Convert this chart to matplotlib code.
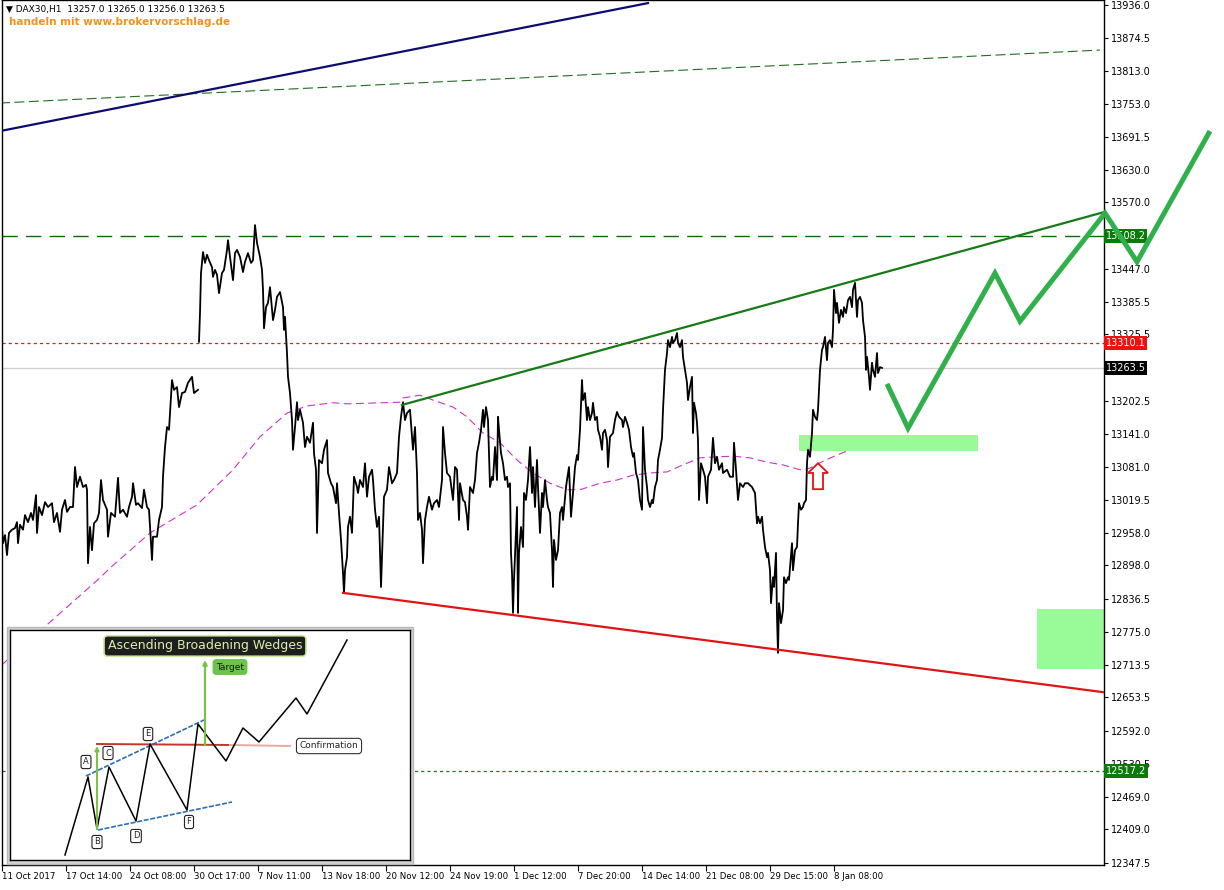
import numpy as np
import matplotlib
matplotlib.use('Agg')
import matplotlib.pyplot as plt
from matplotlib.patches import Rectangle, Polygon

# ---- data (x = H1 bar number, y = DAX price) ----
oct_leg = [(0, 12967), (1, 12939), (3, 12954), (5, 12917), (7, 12958), (10, 12964), (13, 12967), (15, 12978),
           (16, 12939), (18, 12973), (21, 12964), (23, 12991), (26, 12978), (29, 12995), (31, 12982), (34, 13028),
           (35, 12958), (37, 13006), (40, 12991), (43, 13015), (46, 13006), (50, 13013), (52, 12978), (55, 12995),
           (58, 12960), (60, 13001), (63, 13019), (65, 12997), (68, 13006), (71, 13006), (73, 13080), (75, 13043),
           (78, 13062), (81, 13043), (84, 13047), (85, 13038), (86, 12902), (88, 12969), (90, 12926), (92, 12976),
           (95, 12982), (97, 12995), (99, 13056), (101, 13019), (105, 13001), (106, 12951), (109, 12995), (113, 12988),
           (116, 13060), (118, 12995), (121, 13001), (125, 12988), (127, 13006), (130, 13025), (131, 13050), (134, 13010),
           (136, 13013), (140, 13004), (142, 13038), (145, 13006), (147, 13001), (150, 12908), (151, 12951), (155, 12951),
           (157, 12982), (160, 13006), (161, 13062), (163, 13117), (165, 13154), (167, 13149), (170, 13241), (172, 13223),
           (175, 13228), (177, 13191), (180, 13217), (183, 13219), (186, 13236), (190, 13247), (192, 13217), (196, 13223)]

main_leg = [(197, 13312), (198, 13365), (199, 13439), (201, 13478), (203, 13458), (205, 13473), (207, 13463), (210, 13450),
            (211, 13432), (213, 13445), (215, 13436), (217, 13402), (220, 13439), (222, 13445), (225, 13482), (226, 13500),
            (228, 13469), (231, 13426), (233, 13476), (235, 13482), (238, 13469), (241, 13441), (243, 13460), (246, 13476),
            (249, 13458), (251, 13463), (253, 13528), (255, 13495), (258, 13469), (260, 13445), (261, 13408), (262, 13337),
            (264, 13376), (266, 13384), (268, 13413), (271, 13352), (273, 13371), (275, 13395), (278, 13404), (281, 13376),
            (282, 13334), (283, 13358), (285, 13291), (286, 13247), (288, 13217), (290, 13167), (291, 13112), (293, 13154),
            (295, 13200), (296, 13167), (298, 13186), (301, 13162), (303, 13117), (305, 13136), (308, 13125), (311, 13162),
            (312, 13106), (314, 13075), (315, 12958), (317, 13093), (320, 13087), (322, 13112), (325, 13130), (326, 13069),
            (329, 13050), (331, 13043), (334, 13013), (335, 13050), (337, 12995), (339, 12945), (341, 12884), (342, 12847),
            (343, 12889), (345, 12913), (346, 12969), (348, 12988), (350, 12958), (352, 13062), (355, 13043), (356, 13032),
            (358, 13056), (361, 13043), (363, 13087), (365, 13025), (367, 13062), (370, 13075), (371, 13056), (373, 13001),
            (375, 12969), (377, 12988), (379, 12858), (381, 12969), (382, 13025), (385, 13038), (387, 13080), (390, 13050),
            (392, 13056), (395, 13069), (397, 13136), (399, 13173), (401, 13200), (403, 13167), (405, 13180), (408, 13186),
            (410, 13136), (411, 13112), (413, 13154), (415, 13069), (416, 12982), (418, 12995), (420, 12964), (421, 12902),
            (423, 12982), (425, 13006), (427, 13025), (430, 13001), (432, 13013), (435, 13019), (437, 13006), (440, 13056),
            (441, 13154), (443, 13106), (445, 13069), (448, 13062), (451, 13019), (453, 13080), (455, 13075), (457, 12982),
            (458, 13050), (461, 13019), (463, 13015), (465, 12988), (466, 12964), (468, 13043), (471, 13032), (473, 13056),
            (475, 13106), (477, 13125), (479, 13149), (481, 13186), (482, 13154), (484, 13191), (486, 13167), (488, 13043),
            (490, 13062), (491, 13056), (493, 13117), (495, 13056), (496, 13173), (497, 13149), (499, 13106), (501, 13087),
            (503, 13056), (505, 13062), (506, 13043), (508, 13050), (509, 12921), (510, 12884), (511, 12810), (512, 12871),
            (514, 12958), (515, 13006), (516, 12810), (517, 12921), (519, 12969), (521, 12932), (522, 13032), (524, 13019),
            (526, 13056), (528, 13117), (530, 13032), (531, 13080), (533, 13006), (535, 13093), (536, 13043), (538, 12958),
            (540, 13032), (541, 13006), (543, 13056), (545, 13019), (546, 13006), (548, 12995), (550, 12926), (551, 12858),
            (552, 12945), (554, 12908), (556, 12926), (558, 12995), (560, 13006), (561, 12982), (564, 13043), (565, 13056),
            (567, 13080), (569, 12988), (571, 13032), (573, 13080), (575, 13102), (576, 13093), (578, 13149), (580, 13241),
            (581, 13204), (583, 13217), (585, 13167), (586, 13191), (588, 13167), (590, 13180), (591, 13199), (593, 13167),
            (595, 13173), (596, 13149), (598, 13136), (600, 13112), (601, 13143), (603, 13149), (605, 13130), (606, 13080),
            (608, 13136), (611, 13143), (613, 13167), (615, 13182), (617, 13173), (620, 13167), (621, 13154), (623, 13173),
            (625, 13162), (627, 13149), (629, 13117), (631, 13099), (632, 13106), (634, 13069), (636, 13056), (638, 13019),
            (640, 13001), (641, 13154), (643, 13075), (645, 13043), (646, 13019), (648, 13006), (650, 13019), (651, 13013),
            (653, 13043), (655, 13056), (656, 13093), (658, 13112), (660, 13134), (661, 13186), (663, 13260), (665, 13291),
            (666, 13315), (668, 13302), (670, 13321), (671, 13310), (673, 13315), (675, 13328), (676, 13310), (678, 13302),
            (680, 13315), (681, 13284), (683, 13260), (685, 13236), (686, 13204), (688, 13228), (690, 13247), (691, 13143),
            (692, 13199), (694, 13180), (695, 13162), (696, 13130), (697, 13019), (699, 13087), (701, 13075), (703, 13062),
            (705, 13013), (706, 13062), (709, 13075), (711, 13134), (713, 13087), (715, 13099), (717, 13075), (720, 13087),
            (721, 13069), (725, 13075), (728, 13062), (731, 13062), (732, 13125), (734, 13075), (736, 13019), (738, 13050),
            (741, 13043), (743, 13050), (746, 13050), (750, 13043), (753, 13032), (755, 12976), (756, 12988), (758, 12976),
            (760, 12988), (761, 12964), (763, 12932), (765, 12913), (766, 12921), (768, 12889), (769, 12828), (771, 12876),
            (772, 12858), (774, 12921), (775, 12802), (776, 12736), (777, 12828), (779, 12791), (781, 12815), (782, 12876),
            (784, 12865), (786, 12876), (787, 12871), (790, 12939), (791, 12889), (793, 12926), (795, 12932), (796, 12976),
            (797, 13013), (799, 13001), (801, 13006), (802, 13013), (804, 13019), (805, 13087), (806, 13112), (808, 13099),
            (810, 13143), (811, 13186), (813, 13173), (815, 13167), (816, 13186), (818, 13260), (820, 13297), (821, 13302),
            (823, 13321), (825, 13278), (826, 13310), (828, 13315), (830, 13302), (831, 13334), (832, 13408), (834, 13365),
            (835, 13384), (837, 13347), (839, 13371), (841, 13358), (842, 13376), (844, 13365), (846, 13389), (848, 13395),
            (850, 13376), (851, 13408), (853, 13421), (855, 13358), (856, 13389), (858, 13395), (860, 13384), (861, 13352),
            (863, 13321), (864, 13260), (865, 13284), (867, 13247), (868, 13223), (870, 13273), (871, 13260), (873, 13247),
            (875, 13291), (876, 13254), (878, 13265), (880, 13263.5)]

# moving average (magenta dashed)
ma_line = [(0, 12714), (3, 12719), (98, 12875), (108, 12893), (148, 12958), (195, 13010), (231, 13075), (258, 13136),
           (285, 13180), (305, 13193), (331, 13199), (345, 13197), (398, 13200), (401, 13208), (418, 13213), (431, 13204),
           (451, 13191), (465, 13173), (481, 13143), (498, 13125), (515, 13093), (531, 13069), (548, 13050), (565, 13038),
           (578, 13038), (598, 13050), (615, 13056), (631, 13065), (648, 13069), (665, 13071), (681, 13084), (698, 13097),
           (715, 13099), (731, 13100), (748, 13097), (765, 13089), (781, 13084), (798, 13075), (808, 13078), (818, 13088),
           (831, 13099), (848, 13112), (865, 13125), (875, 13128)]

# drawn objects
navy_trend = [(-2, 13702), (646, 13939)]
green_channel_dash = [(-2, 13754), (1098, 13852)]
resistance = [(400, 13195), (1102, 13552)]
support = [(341, 12847), (1102, 12663)]
projection = [(885, 13234), (906, 13152), (993, 13439), (1018, 13350), (1103, 13550), (1135, 13460), (1208, 13702)]
level_green = 13508.2
level_red = 13310.1
last_price = 13263.5
level_low = 12517.2
zone_upper = (797, 976, 13110, 13140)
zone_lower = (1035, 1102, 12706, 12817)
arrow_shape = [(816, 13087), (806, 13069), (811, 13069), (811, 13039), (821, 13039), (821, 13069), (826, 13069)]

y_ticks = [13936.0, 13874.5, 13813.0, 13753.0, 13691.5, 13630.0, 13570.0, 13447.0, 13385.5, 13325.5,
           13202.5, 13141.0, 13081.0, 13019.5, 12958.0, 12898.0, 12836.5, 12775.0, 12713.5, 12653.5,
           12592.0, 12530.5, 12469.0, 12409.0, 12347.5]
x_ticks = [0, 64, 128, 192, 256, 320, 384, 448, 512, 576, 640, 704, 768, 832]
x_labels = ['11 Oct 2017', '17 Oct 14:00', '24 Oct 08:00', '30 Oct 17:00', '7 Nov 11:00', '13 Nov 18:00',
            '20 Nov 12:00', '24 Nov 19:00', '1 Dec 12:00', '7 Dec 20:00', '14 Dec 14:00', '21 Dec 08:00',
            '29 Dec 15:00', '8 Jan 08:00']

# schematic in the inset picture
wedge_x = [55, 78, 87, 99, 126, 140, 177, 188, 216, 233, 249, 286, 297, 337]
wedge_y = [5, 83, 31, 93, 39, 116, 50, 136, 99, 132, 118, 162, 146, 220]
wedge_upper = [(76, 84), (194, 140)]
wedge_lower = [(88, 30), (222, 58)]
wedge_points = [('A', 76, 98), ('B', 87, 18), ('C', 98, 107), ('D', 126, 24), ('E', 138, 126), ('F', 179, 38)]

W, H = 1224, 890
fig = plt.figure(figsize=(W / 100, H / 100), dpi=100)
ax = fig.add_axes([2 / W, 25 / H, 1102 / W, 865 / H])
ax.set_xlim(0, 1102)
ax.set_ylim(12343.2, 13944.7)

for leg in (oct_leg, main_leg):
    b, p = zip(*leg)
    ax.plot(b, p, color='black', lw=1.3, zorder=3)

b, p = zip(*ma_line)
ax.plot(b, p, color='#cc33cc', lw=0.8, dashes=(7, 4), zorder=2)

b, p = zip(*navy_trend)
ax.plot(b, p, color='#0c0c70', lw=1.6, zorder=3)
b, p = zip(*green_channel_dash)
ax.plot(b, p, color='#1f6f1f', lw=0.8, dashes=(9, 4), zorder=2)
b, p = zip(*resistance)
ax.plot(b, p, color='#167a16', lw=1.6, zorder=4)
b, p = zip(*support)
ax.plot(b, p, color='#e01414', lw=1.6, zorder=4)

ax.axhline(level_green, color='#0b6b0b', lw=1.0, dashes=(11, 6), zorder=2)
ax.axhline(level_red, color='#d42020', lw=0.9, dashes=(2.5, 2.5), zorder=2)
ax.axhline(last_price, color='#cfcfcf', lw=1.0, zorder=1)
ax.axhline(level_low, color='#1a7a1a', lw=0.9, dashes=(2.5, 2.5), zorder=2)

for x0, x1, y0, y1 in (zone_upper, zone_lower):
    ax.add_patch(Rectangle((x0, y0), x1 - x0, y1 - y0, fc='#98fb98', ec='none', zorder=2))

ax.add_patch(Polygon(arrow_shape, closed=True, fc='white', ec='#e01414', lw=1.3, zorder=5))

b, p = zip(*projection)
ax.plot(b, p, color='#2fb04a', lw=3.6, solid_capstyle='butt', solid_joinstyle='miter', clip_on=False, zorder=8)

# axes styling like the trading terminal
ax.yaxis.tick_right()
ax.set_yticks(y_ticks)
ax.set_yticklabels(['%.1f' % v for v in y_ticks])
ax.set_xticks(x_ticks)
ax.set_xticklabels(x_labels, ha='left')
ax.tick_params(axis='y', direction='out', length=3, width=0.8, labelsize=7, pad=2)
ax.tick_params(axis='x', direction='out', length=4, width=0.8, labelsize=6.2, pad=1)
for s in ax.spines.values():
    s.set_linewidth(1.0)

ytr = ax.get_yaxis_transform()
for val, col in ((level_green, '#0a7a0a'), (level_red, '#f01010'), (last_price, 'black'), (level_low, '#0a7a0a')):
    ax.text(1.0015, val, '%.1f' % val, transform=ytr, ha='left', va='center', fontsize=7, color='white',
            bbox=dict(boxstyle='square,pad=0.18', fc=col, ec='none'), clip_on=False, zorder=6)

fig.text(6 / W, 1 - 9 / H, '\u25bc DAX30,H1  13257.0 13265.0 13256.0 13263.5', fontsize=6.5, va='center', ha='left')
fig.text(9 / W, 1 - 22 / H, 'handeln mit www.brokervorschlag.de', fontsize=7.5, fontweight='bold',
         color='#f39218', va='center', ha='left')

# inset picture
fig.add_artist(Rectangle((7 / W, 26 / H), 406 / W, 237 / H, transform=fig.transFigure,
                         fc='#d4d4d4', ec='#b8b8b8', lw=1, zorder=9))
ins = fig.add_axes([10 / W, 30 / H, 400 / W, 230 / H])
ins.set_zorder(10)
ins.set_xlim(0, 400)
ins.set_ylim(0, 230)
ins.set_xticks([])
ins.set_yticks([])
for s in ins.spines.values():
    s.set_linewidth(1.0)

ins.plot([87, 220], [116, 115], color='#c0392b', lw=1.4)
ins.plot([220, 280], [115, 114], color='#eba8a0', lw=1.4)
for seg in (wedge_upper, wedge_lower):
    xs, ys = zip(*seg)
    ins.plot(xs, ys, color='#2a6fb8', lw=1.2, dashes=(3, 1))
ins.plot(wedge_x, wedge_y, color='black', lw=1.1)
ins.annotate('', xy=(87, 114), xytext=(87, 31),
             arrowprops=dict(arrowstyle='-|>', color='#7dc142', lw=1.4, mutation_scale=6, shrinkA=0, shrinkB=0))
ins.annotate('', xy=(195, 200), xytext=(195, 115),
             arrowprops=dict(arrowstyle='-|>', color='#7dc142', lw=1.6, mutation_scale=6, shrinkA=0, shrinkB=0))
ins.text(195, 214, 'Ascending Broadening Wedges', ha='center', va='center', fontsize=9, color='#d8f0b0',
         bbox=dict(boxstyle='round,pad=0.3', fc='#1e1e1e', ec='#cde8a0', lw=1.2))
ins.text(220, 193, 'Target', ha='center', va='center', fontsize=6.5, color='#1a1a1a',
         bbox=dict(boxstyle='round,pad=0.3', fc='#6cc24a', ec='#6cc24a'))
ins.text(319, 114, 'Confirmation', ha='center', va='center', fontsize=6.5, color='#222222',
         bbox=dict(boxstyle='round,pad=0.35', fc='white', ec='#333333', lw=0.8))
for lab, lx, ly in wedge_points:
    ins.text(lx, ly, lab, ha='center', va='center', fontsize=6, color='#222222',
             bbox=dict(boxstyle='round,pad=0.25', fc='white', ec='#222222', lw=0.8))

fig.savefig('out.png', dpi=100)
